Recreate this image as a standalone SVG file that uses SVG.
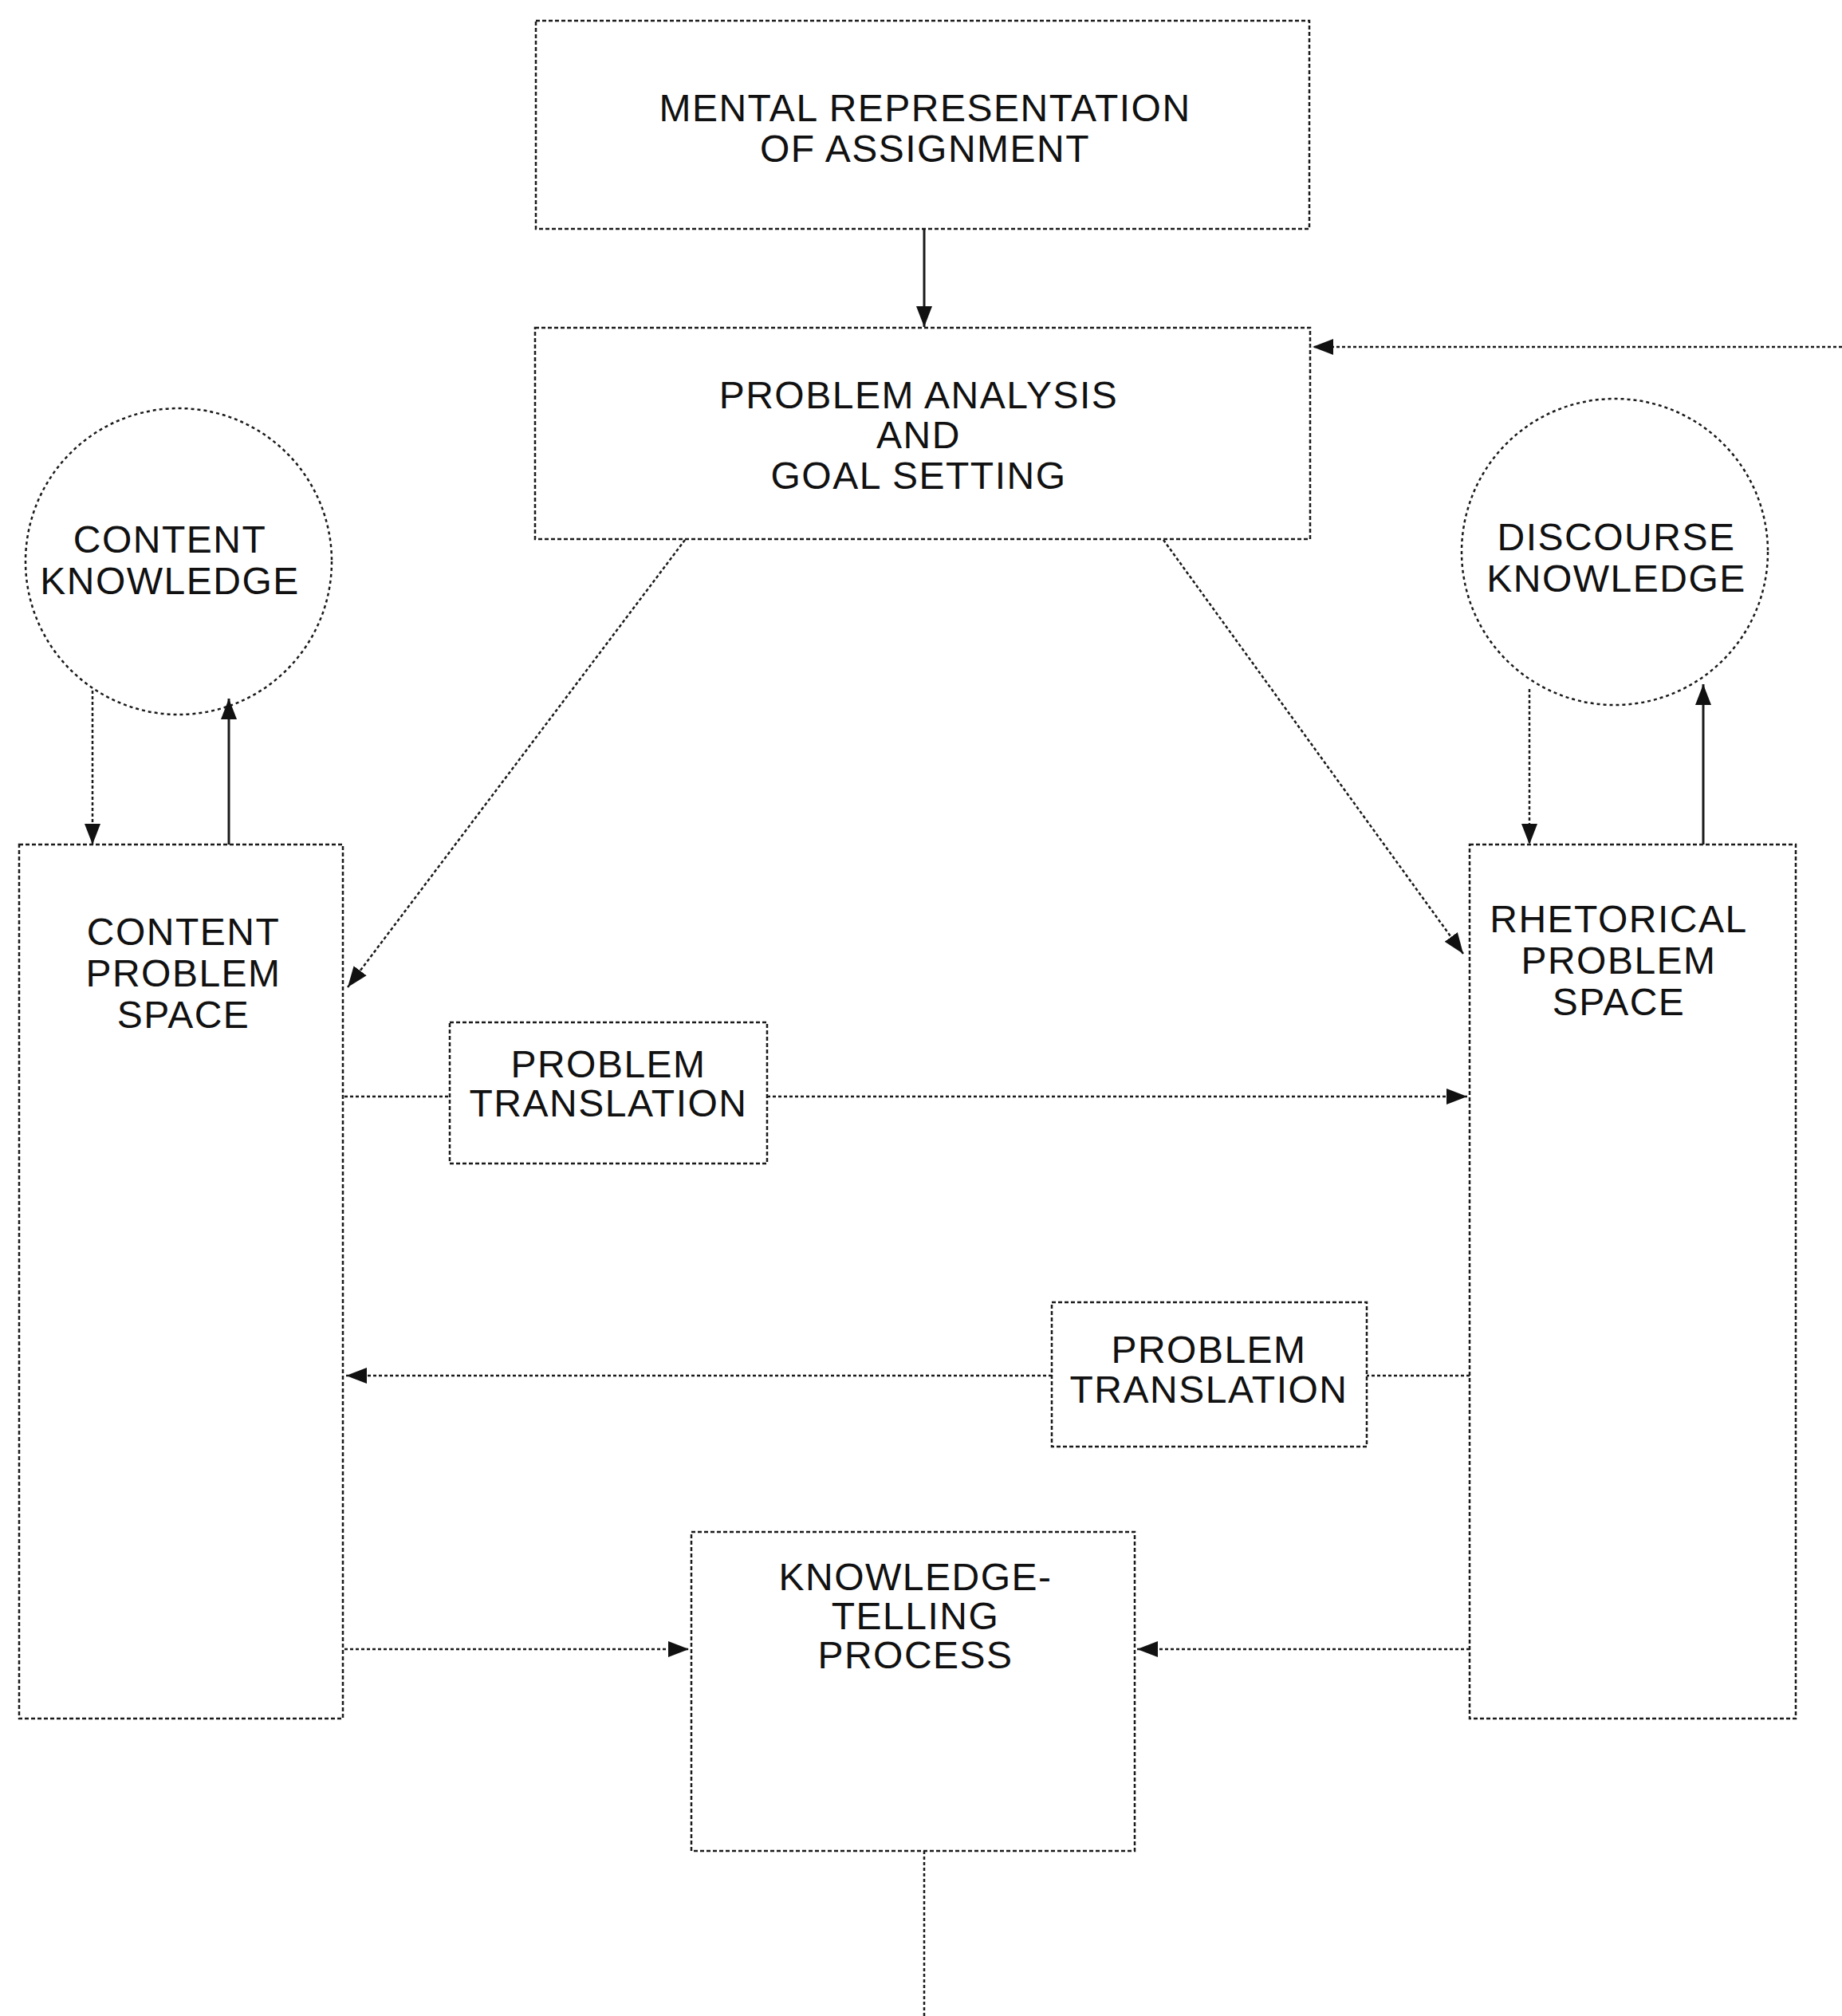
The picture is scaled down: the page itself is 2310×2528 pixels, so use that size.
<svg xmlns="http://www.w3.org/2000/svg" width="2310" height="2528" viewBox="0 0 2310 2528">
<style>
.box{fill:none;stroke:#1a1a1a;stroke-width:2.5;stroke-dasharray:5 3}
.circ{fill:none;stroke:#1a1a1a;stroke-width:2.5;stroke-dasharray:4 4}
.edge{fill:none;stroke:#1a1a1a;stroke-width:2.5;stroke-dasharray:4 3}
.solid{fill:none;stroke:#1a1a1a;stroke-width:3}
text{font-family:"Liberation Sans",Arial,sans-serif;font-size:48px;fill:#111;text-anchor:middle;letter-spacing:1.5px}
</style>
<defs>
<marker id="ah" markerUnits="userSpaceOnUse" markerWidth="30" markerHeight="24" refX="26" refY="12" orient="auto">
<path d="M0,2 L26,12 L0,22 Z" fill="#111"/>
</marker>
</defs>
<rect width="2310" height="2528" fill="#fff"/>

<g id="mental-representation">
<rect class="box" x="672" y="26" width="970" height="261"/>
<text x="1160" y="152">MENTAL REPRESENTATION</text>
<text x="1160" y="203">OF ASSIGNMENT</text>
</g>

<g id="problem-analysis">
<rect class="box" x="671" y="411" width="972" height="265"/>
<text x="1152" y="512">PROBLEM ANALYSIS</text>
<text x="1152" y="562">AND</text>
<text x="1152" y="613">GOAL SETTING</text>
</g>

<g id="content-knowledge">
<circle class="circ" cx="224" cy="704" r="192"/>
<text x="213" y="693">CONTENT</text>
<text x="213" y="745">KNOWLEDGE</text>
</g>

<g id="discourse-knowledge">
<circle class="circ" cx="2025" cy="692" r="192"/>
<text x="2027" y="690">DISCOURSE</text>
<text x="2027" y="742">KNOWLEDGE</text>
</g>

<g id="content-problem-space">
<rect class="box" x="24" y="1059" width="406" height="1096"/>
<text x="230" y="1185">CONTENT</text>
<text x="230" y="1237">PROBLEM</text>
<text x="230" y="1289">SPACE</text>
</g>

<g id="rhetorical-problem-space">
<rect class="box" x="1843" y="1059" width="409" height="1096"/>
<text x="2030" y="1169">RHETORICAL</text>
<text x="2030" y="1221">PROBLEM</text>
<text x="2030" y="1273">SPACE</text>
</g>

<g id="problem-translation-1">
<rect class="box" x="564" y="1282" width="398" height="177"/>
<text x="763" y="1351">PROBLEM</text>
<text x="763" y="1400">TRANSLATION</text>
</g>

<g id="problem-translation-2">
<rect class="box" x="1319" y="1633" width="395" height="181"/>
<text x="1516" y="1709">PROBLEM</text>
<text x="1516" y="1759">TRANSLATION</text>
</g>

<g id="knowledge-telling">
<rect class="box" x="867" y="1921" width="556" height="400"/>
<text x="1148" y="1994">KNOWLEDGE-</text>
<text x="1148" y="2043">TELLING</text>
<text x="1148" y="2092">PROCESS</text>
</g>

<g id="connectors">
<line class="solid" x1="1159" y1="287" x2="1159" y2="410" marker-end="url(#ah)"/>
<line class="edge" x1="2310" y1="435" x2="1646" y2="435" marker-end="url(#ah)"/>
<line class="edge" x1="116" y1="866" x2="116" y2="1059" marker-end="url(#ah)"/>
<line class="solid" x1="287" y1="1059" x2="287" y2="876" marker-end="url(#ah)"/>
<line class="edge" x1="1918" y1="864" x2="1918" y2="1059" marker-end="url(#ah)"/>
<line class="solid" x1="2136" y1="1059" x2="2136" y2="858" marker-end="url(#ah)"/>
<line class="edge" x1="859" y1="677" x2="436" y2="1238" marker-end="url(#ah)"/>
<line class="edge" x1="1459" y1="677" x2="1835" y2="1196" marker-end="url(#ah)"/>
<line class="edge" x1="432" y1="1375" x2="564" y2="1375"/>
<line class="edge" x1="962" y1="1375" x2="1840" y2="1375" marker-end="url(#ah)"/>
<line class="edge" x1="1843" y1="1725" x2="1714" y2="1725"/>
<line class="edge" x1="1319" y1="1725" x2="434" y2="1725" marker-end="url(#ah)"/>
<line class="edge" x1="432" y1="2068" x2="864" y2="2068" marker-end="url(#ah)"/>
<line class="edge" x1="1843" y1="2068" x2="1426" y2="2068" marker-end="url(#ah)"/>
<line class="edge" x1="1159" y1="2321" x2="1159" y2="2528"/>
</g>
</svg>
